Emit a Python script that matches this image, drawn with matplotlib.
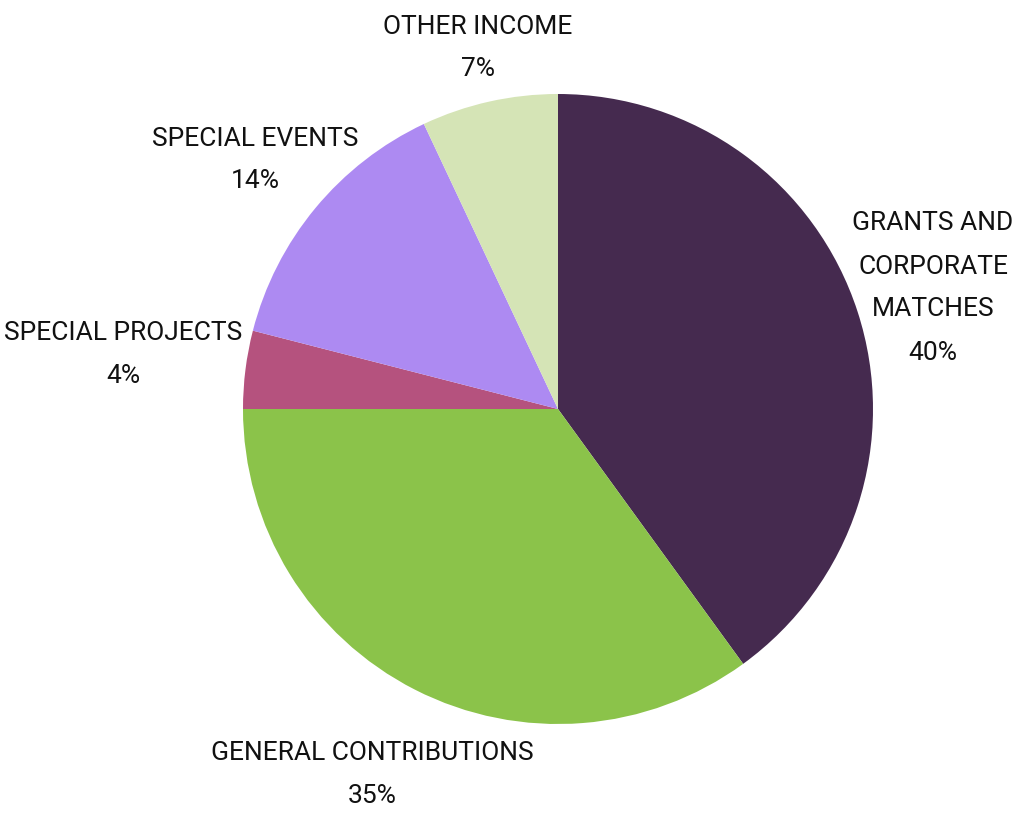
import matplotlib
matplotlib.use("Agg")
import matplotlib.pyplot as plt

# Income breakdown (percent)
categories = ["GRANTS AND\nCORPORATE\nMATCHES", "GENERAL CONTRIBUTIONS", "SPECIAL PROJECTS",
              "SPECIAL EVENTS", "OTHER INCOME"]
values = [40, 35, 4, 14, 7]
colors = ["#452a4f", "#8bc34a", "#b5527e", "#ad8af2", "#d5e4b6"]

# label centres in pixels (from top-left), hand placed like the original
label_pos = [(933, 288), (372, 775), (123, 355), (255, 160), (478, 48)]

plt.rcParams['font.family'] = ['Roboto', 'DejaVu Sans']

W, H = 1017, 820
fig = plt.figure(figsize=(W / 100, H / 100), dpi=100)
ax = fig.add_axes([0, 0, 1, 1])

ax.pie(values, colors=colors, startangle=90, counterclock=False,
       center=(558, H - 410), radius=315, frame=True,
       wedgeprops=dict(linewidth=0))
ax.set_xlim(0, W)
ax.set_ylim(0, H)
ax.set_aspect('equal')
ax.axis('off')

for name, val, (x, y) in zip(categories, values, label_pos):
    ax.text(x, H - y, f"{name}\n{val}%", ha='center', va='center',
            fontsize=19, linespacing=2.0, color='#111111')

fig.savefig("out.png", dpi=100)
